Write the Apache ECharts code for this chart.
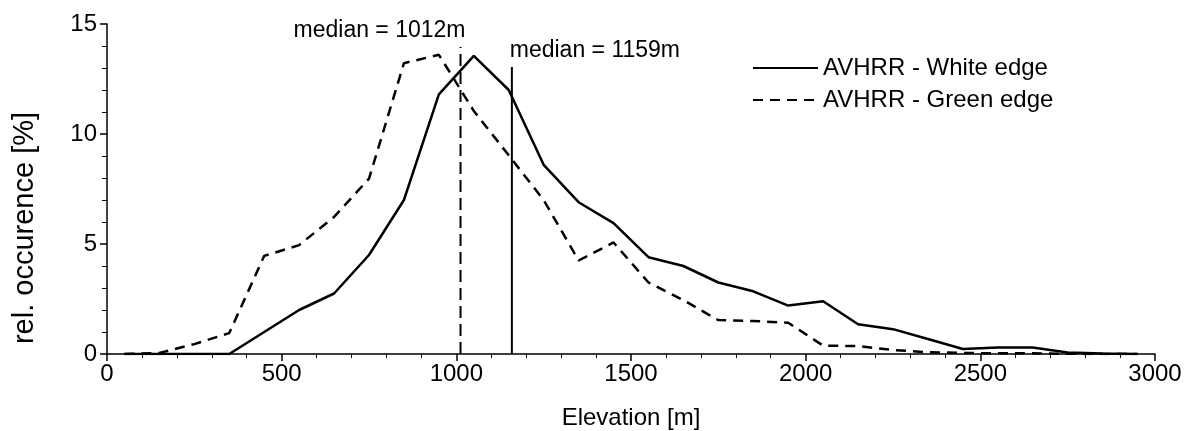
<!DOCTYPE html>
<html>

<head>
    <meta charset="utf-8">
    <title>Elevation distribution</title>
    <script type="text/javascript" src="https://cdn.jsdelivr.net/npm/echarts@6/dist/echarts.min.js"></script>
    <style>
        html, body { margin: 0; padding: 0; background: #fff; }
        #main { width: 1187px; height: 431px; }
    </style>
</head>

<body>
    <div id="main"></div>
    <script type="text/javascript">
    // bin centres of the elevation classes [m]
    var elevation = [50, 150, 250, 350, 450, 550, 650, 750, 850, 950,
        1050, 1150, 1250, 1350, 1450, 1550, 1650, 1750, 1850, 1950,
        2050, 2150, 2250, 2350, 2450, 2550, 2650, 2750, 2850, 2950];
    // relative occurence [%]
    var whiteEdge = [0, 0, 0, 0, 1.0, 2.0, 2.75, 4.5, 7.0, 11.8,
        13.55, 12.0, 8.6, 6.9, 5.95, 4.4, 4.0, 3.25, 2.85, 2.2,
        2.4, 1.35, 1.13, 0.68, 0.23, 0.3, 0.3, 0.07, 0.02, 0];
    var greenEdge = [0, 0.05, 0.45, 0.95, 4.46, 4.95, 6.23, 7.97, 13.22, 13.6,
        11.05, 9.03, 7.0, 4.25, 5.07, 3.25, 2.45, 1.54, 1.5, 1.42,
        0.38, 0.36, 0.18, 0.08, 0.05, 0.03, 0.03, 0.01, 0, 0];
    var seriesNames = ['AVHRR - White edge', 'AVHRR - Green edge'];
    // medians [m] and the height the marker lines reach [%]
    var medianWhite = 1159, medianWhiteTop = 13.04;
    var medianGreen = 1012, medianGreenTop = 13.95;

    var font = 'Liberation Sans, Arial, sans-serif';

    function pairs(xs, ys) {
        return xs.map(function(x, i) { return [x, ys[i]]; });
    }

    // vertical median marker, label on its top point
    function medianSeries(x, top, dash, offset) {
        return {
            type: 'line',
            data: [[x, 0], {
                value: [x, top],
                label: {
                    show: true,
                    position: 'top',
                    offset: offset,
                    formatter: 'median = ' + x + 'm',
                    color: '#000',
                    fontFamily: font,
                    fontSize: 23
                }
            }],
            symbol: 'circle',
            symbolSize: 0,
            showSymbol: true,
            lineStyle: { color: '#000', width: 2, type: dash },
            silent: true,
            z: 1
        };
    }

    var myChart = echarts.init(document.getElementById('main'));

    var option = {
        animation: false,
        backgroundColor: '#fff',
        textStyle: { fontFamily: font, color: '#000' },
        grid: { left: 107, right: 32, top: 24, bottom: 77, outerBoundsMode: 'none' },
        legend: {
            orient: 'vertical',
            left: 747,
            top: 51,
            itemWidth: 65,
            itemHeight: 10,
            itemGap: 8,
            data: seriesNames,
            itemStyle: { opacity: 0 },
            textStyle: { fontFamily: font, fontSize: 24, color: '#000' }
        },
        xAxis: {
            type: 'value',
            min: 0,
            max: 3000,
            interval: 500,
            name: 'Elevation [m]',
            nameLocation: 'middle',
            nameGap: 52,
            nameTextStyle: { fontFamily: font, fontSize: 24, color: '#000' },
            axisLine: { lineStyle: { color: '#000', width: 1.5 } },
            axisTick: { inside: false, length: 7, lineStyle: { color: '#000', width: 1.5 } },
            minorTick: { show: true, splitNumber: 5, length: 4, lineStyle: { color: '#000', width: 1 } },
            axisLabel: {
                margin: 8, fontFamily: font, fontSize: 24, color: '#000',
                formatter: function(v) { return String(v); }
            },
            splitLine: { show: false }
        },
        yAxis: {
            type: 'value',
            min: 0,
            max: 15,
            interval: 5,
            name: 'rel. occurence [%]',
            nameLocation: 'middle',
            nameGap: 68,
            nameTextStyle: { fontFamily: font, fontSize: 29, color: '#000', padding: [0, 78, 0, 0] },
            axisLine: { show: true, lineStyle: { color: '#000', width: 1.5 } },
            axisTick: { show: true, inside: false, length: 7, lineStyle: { color: '#000', width: 1.5 } },
            minorTick: { show: true, splitNumber: 5, length: 5, lineStyle: { color: '#000', width: 1 } },
            axisLabel: { margin: 10, fontFamily: font, fontSize: 24, color: '#000' },
            splitLine: { show: false }
        },
        series: [{
            name: seriesNames[0],
            type: 'line',
            data: pairs(elevation, whiteEdge),
            showSymbol: false,
            symbol: 'none',
            itemStyle: { color: '#000' },
            lineStyle: { color: '#000', width: 2.5, type: 'solid' },
            z: 3
        }, {
            name: seriesNames[1],
            type: 'line',
            data: pairs(elevation, greenEdge),
            showSymbol: false,
            symbol: 'none',
            itemStyle: { color: '#000' },
            lineStyle: { color: '#000', width: 2.5, type: [10, 7] },
            z: 3
        },
        medianSeries(medianGreen, medianGreenTop, [12, 6], [-81, 0]),
        medianSeries(medianWhite, medianWhiteTop, 'solid', [83, 0])
        ]
    };

    myChart.setOption(option);
    </script>
</body>

</html>
